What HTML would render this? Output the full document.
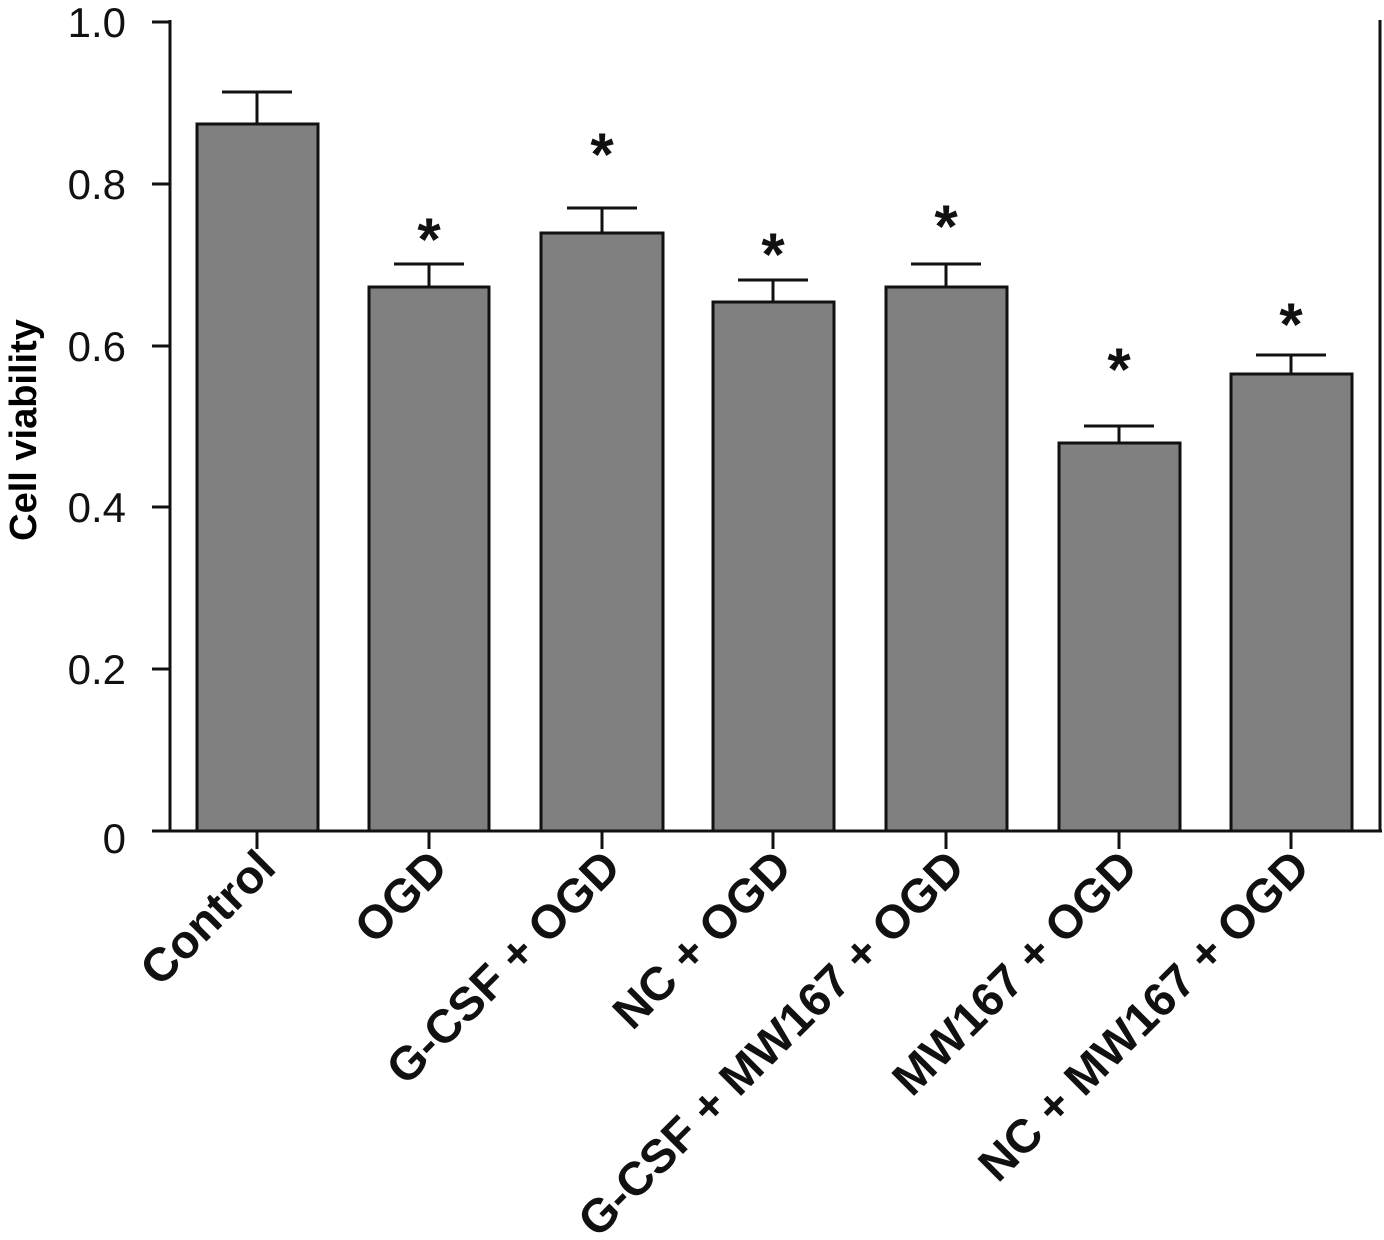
<!DOCTYPE html>
<html><head><meta charset="utf-8"><style>html,body{margin:0;padding:0;background:#fff}</style></head>
<body>
<svg width="1384" height="1235" viewBox="0 0 1384 1235" xmlns="http://www.w3.org/2000/svg" font-family="Liberation Sans, DejaVu Sans, sans-serif">
<g stroke="#111" stroke-width="3" fill="none">
<line x1="170" y1="20" x2="170" y2="832"/>
<line x1="1380" y1="20" x2="1380" y2="832"/>
<line x1="152" y1="831" x2="1382" y2="831"/>
<line x1="152" y1="22" x2="170" y2="22"/>
<line x1="152" y1="184" x2="170" y2="184"/>
<line x1="152" y1="346" x2="170" y2="346"/>
<line x1="152" y1="507" x2="170" y2="507"/>
<line x1="152" y1="669" x2="170" y2="669"/>
</g>
<g font-size="42" text-anchor="end" fill="#111">
<text x="126" y="37">1.0</text>
<text x="126" y="199">0.8</text>
<text x="126" y="361">0.6</text>
<text x="126" y="522">0.4</text>
<text x="126" y="684">0.2</text>
<text x="126" y="853">0</text>
</g>
<text transform="translate(36,430) rotate(-90)" font-size="38" font-weight="bold" text-anchor="middle">Cell viability</text>
<g fill="#808080" stroke="#111" stroke-width="3">
<rect x="197" y="124" width="121" height="707"/>
<rect x="369" y="287" width="120" height="544"/>
<rect x="541" y="233" width="122" height="598"/>
<rect x="713" y="302" width="121" height="529"/>
<rect x="886" y="287" width="121" height="544"/>
<rect x="1059" y="443" width="121" height="388"/>
<rect x="1231" y="374" width="121" height="457"/>
</g>
<g stroke="#111" stroke-width="3">
<path d="M257 124V92M222 92H292"/>
<path d="M429 287V264M394 264H464"/>
<path d="M602 233V208M567 208H637"/>
<path d="M773 302V280M738 280H808"/>
<path d="M946 287V264M911 264H981"/>
<path d="M1119 443V426M1084 426H1154"/>
<path d="M1291 374V355M1256 355H1326"/>
<path d="M257 831V849M429 831V849M602 831V849M773 831V849M946 831V849M1119 831V849M1291 831V849"/>
</g>
<g font-size="60" font-weight="bold" text-anchor="middle" fill="#111">
<text x="429" y="260">*</text>
<text x="602" y="175">*</text>
<text x="773" y="275">*</text>
<text x="946" y="247">*</text>
<text x="1119" y="390">*</text>
<text x="1291" y="345">*</text>
</g>
<g font-size="47" font-weight="bold" text-anchor="end" fill="#111">
<text transform="translate(278,870) rotate(-45)">Control</text>
<text transform="translate(450,870) rotate(-45)">OGD</text>
<text transform="translate(623,870) rotate(-45)">G-CSF + OGD</text>
<text transform="translate(794,870) rotate(-45)">NC + OGD</text>
<text transform="translate(967,870) rotate(-45)">G-CSF + MW167 + OGD</text>
<text transform="translate(1140,870) rotate(-45)">MW167 + OGD</text>
<text transform="translate(1312,870) rotate(-45)">NC + MW167 + OGD</text>
</g>
</svg>
</body></html>
